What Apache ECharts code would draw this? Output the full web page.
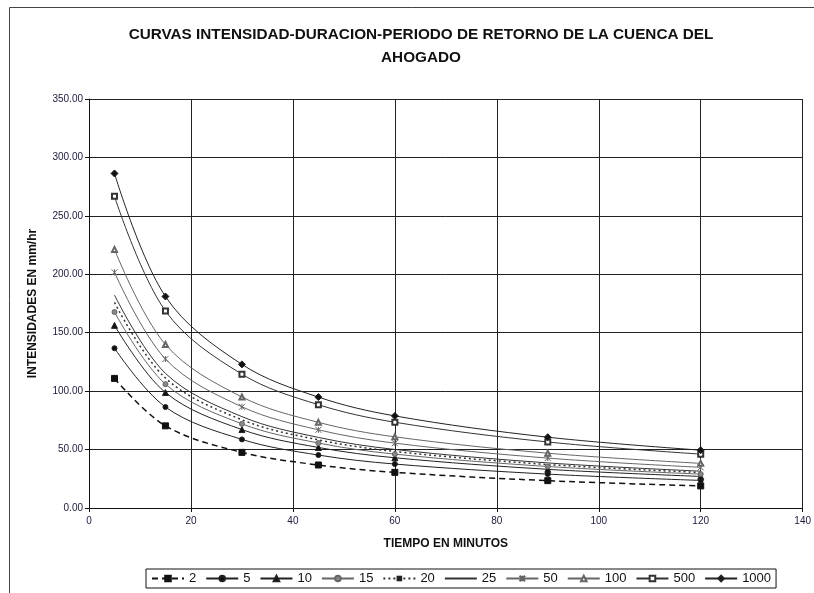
<!DOCTYPE html>
<html>
<head>
<meta charset="utf-8">
<script src="https://cdn.jsdelivr.net/npm/echarts@6/dist/echarts.min.js"></script>
<style>
  html, body { margin: 0; padding: 0; background: #fff; }
  #chart { width: 814px; height: 593px; }
</style>
</head>
<body>
<div id="chart"></div>
<script>
// duraciones (min)
const duraciones = [5, 15, 30, 45, 60, 90, 120]

// intensidades (mm/hr) por periodo de retorno
const t2 = [110.9, 70.3, 47.6, 36.8, 30.5, 23.4, 18.9]
const t5 = [136.7, 86.4, 58.7, 45.3, 37.6, 29.0, 23.6]
const t10 = [156.3, 98.8, 67.1, 51.8, 43.0, 33.1, 27.0]
const t15 = [167.7, 106.0, 72.0, 55.6, 46.1, 35.5, 29.0]
const t20 = [175.9, 111.2, 75.5, 58.3, 48.4, 37.2, 30.4]
const t25 = [182.2, 115.2, 78.2, 60.4, 50.1, 38.6, 31.5]
const t50 = [201.7, 127.5, 86.6, 66.9, 55.5, 42.7, 34.8]
const t100 = [221.3, 139.9, 95.0, 73.3, 60.9, 46.9, 38.2]
const t500 = [266.7, 168.6, 114.5, 88.4, 73.4, 56.5, 46.1]
const t1000 = [286.3, 181.0, 122.9, 94.9, 78.8, 60.6, 49.5]

const nombres = ['2', '5', '10', '15', '20', '25', '50', '100', '500', '1000']
const valores = [t2, t5, t10, t15, t20, t25, t50, t100, t500, t1000]

// estilo de cada curva (linea, marcador)
const estilos = [
  { color: '#111', type: [6, 4], width: 1.5, symbol: 'rect', size: 6, fill: '#111', border: 1, show: true },
  { color: '#222', type: 'solid', width: 1, symbol: 'circle', size: 5, fill: '#111', border: 1, show: true },
  { color: '#222', type: 'solid', width: 1, symbol: 'triangle', size: 6, fill: '#111', border: 1, show: true },
  { color: '#666', type: 'solid', width: 1, symbol: 'circle', size: 5, fill: '#888', border: 1, show: true },
  { color: '#333', type: [2, 3], width: 1.5, symbol: 'rect', size: 3, fill: '#222', border: 0, show: false },
  { color: '#333', type: 'solid', width: 1, symbol: 'circle', size: 0, fill: 'transparent', border: 0, show: false },
  { color: '#666', type: 'solid', width: 1, symbol: 'path://M0,0L10,10M10,0L0,10M5,0L5,10', size: 6, fill: '#666', border: 1, show: true },
  { color: '#666', type: 'solid', width: 1, symbol: 'emptyTriangle', size: 5, fill: '#666', border: 1, show: true },
  { color: '#333', type: 'solid', width: 1, symbol: 'emptyRect', size: 5, fill: '#333', border: 1, show: true },
  { color: '#222', type: 'solid', width: 1, symbol: 'diamond', size: 7, fill: '#111', border: 1, show: true }
]

const series = nombres.map(function (n, i) {
  const e = estilos[i]
  return {
    name: n,
    type: 'line',
    smooth: 0.35,
    data: duraciones.map(function (d, j) { return [d, valores[i][j]] }),
    symbol: e.symbol,
    symbolSize: e.size,
    showSymbol: e.show,
    lineStyle: { color: e.color, type: e.type, width: e.width },
    itemStyle: { color: e.fill, borderColor: e.color, borderWidth: e.border },
    emphasis: { disabled: true }
  }
})

const option = {
  animation: false,
  backgroundColor: '#fff',
  textStyle: { fontFamily: 'Liberation Sans, Arial, sans-serif' },
  title: {
    text: 'CURVAS INTENSIDAD-DURACION-PERIODO DE RETORNO DE LA CUENCA DEL\nAHOGADO',
    left: 416,
    top: 18,
    textAlign: 'center',
    textStyle: { fontSize: 15.3, fontWeight: 'bold', color: '#111', lineHeight: 23 }
  },
  graphic: [
    {
      type: 'rect',
      shape: { x: 9.5, y: 7.5, width: 900, height: 700 },
      style: { fill: 'none', stroke: '#444', lineWidth: 1 },
      silent: true
    }
  ],
  legend: {
    left: 146,
    top: 569,
    width: 700,
    data: nombres,
    itemWidth: 32,
    itemHeight: 7,
    itemGap: 9,
    padding: [3, 5],
    borderColor: '#111',
    borderWidth: 1,
    textStyle: { fontSize: 13, color: '#111' }
  },
  grid: { left: 89, right: 5, top: 99, bottom: 85 },
  xAxis: {
    type: 'value',
    min: 0,
    max: 140,
    interval: 20,
    name: 'TIEMPO EN MINUTOS',
    nameLocation: 'middle',
    nameGap: 30,
    nameTextStyle: { fontSize: 12, fontWeight: 'bold', color: '#111' },
    axisLine: { lineStyle: { color: '#111' } },
    axisTick: { show: true, inside: false, length: 4, lineStyle: { color: '#111' } },
    axisLabel: { fontSize: 10, color: '#1a1a3a', margin: 8 },
    splitLine: { show: true, lineStyle: { color: '#222', width: 1 } }
  },
  yAxis: {
    type: 'value',
    min: 0,
    max: 350,
    interval: 50,
    name: 'INTENSIDADES EN mm/hr',
    nameLocation: 'middle',
    nameGap: 50,
    nameTextStyle: { fontSize: 12, fontWeight: 'bold', color: '#111' },
    axisLine: { show: true, lineStyle: { color: '#111' } },
    axisTick: { show: true, length: 4, lineStyle: { color: '#111' } },
    axisLabel: {
      fontSize: 10,
      color: '#1a1a3a',
      margin: 6,
      formatter: function (v) { return v.toFixed(2) }
    },
    splitLine: { show: true, lineStyle: { color: '#222', width: 1 } }
  },
  series: series
}

const chart = echarts.init(document.getElementById('chart'))
chart.setOption(option)
</script>
</body>
</html>
